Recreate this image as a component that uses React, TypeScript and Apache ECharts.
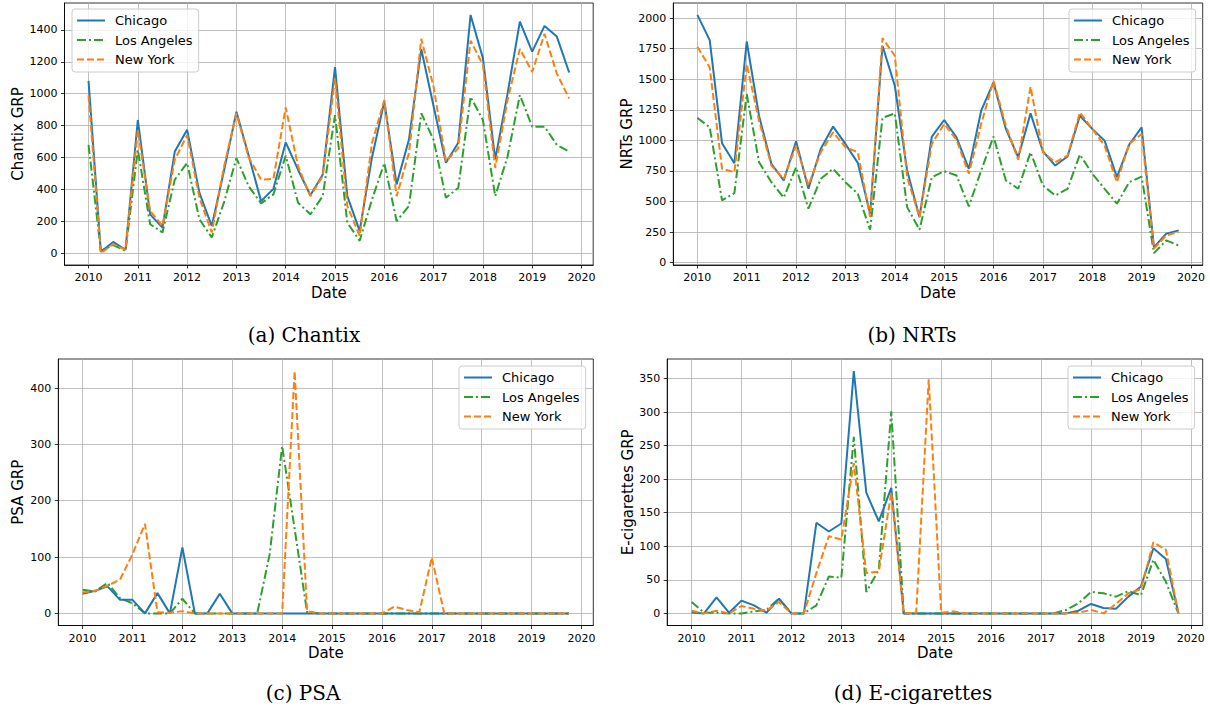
import React, { useEffect, useRef } from "react";
import * as echarts from "echarts";

// Quarterly dates 2010 Q1 .. 2019 Q4
const quarters: number[] = [];
for (let y = 2010; y < 2020; y++) for (let q = 0; q < 4; q++) quarters.push(y + q * 0.25);

const yearTicks = [2010, 2011, 2012, 2013, 2014, 2015, 2016, 2017, 2018, 2019, 2020];

// (a) Chantix
const chantixChicago = [1080, 8, 70, 21, 835, 243, 160, 637, 773, 378, 170, 520, 887, 610, 326, 403, 694, 523, 363, 492, 1167, 357, 139, 600, 950, 431, 712, 1279, 921, 567, 692, 1494, 1223, 588, 1000, 1452, 1264, 1425, 1358, 1133];
const chantixLA = [679, 15, 50, 14, 648, 181, 129, 461, 565, 212, 98, 320, 596, 419, 312, 368, 611, 316, 243, 357, 866, 191, 77, 336, 565, 201, 295, 877, 710, 347, 409, 980, 835, 357, 606, 991, 793, 793, 679, 637];
const chantixNY = [990, 0, 56, 21, 770, 264, 170, 586, 741, 347, 129, 544, 877, 600, 461, 465, 914, 544, 357, 482, 1095, 295, 108, 690, 960, 357, 627, 1344, 1043, 575, 658, 1333, 1180, 534, 960, 1281, 1136, 1375, 1126, 970];
const chantixTicks = [0, 200, 400, 600, 800, 1000, 1200, 1400];

// (b) NRTs
const nrtChicago = [2027, 1820, 976, 813, 1809, 1200, 808, 672, 993, 604, 931, 1113, 971, 816, 400, 1774, 1447, 753, 372, 1031, 1167, 1025, 767, 1243, 1474, 1094, 862, 1221, 911, 794, 868, 1202, 1094, 998, 699, 966, 1107, 127, 237, 264];
const nrtLA = [1184, 1107, 509, 568, 1380, 821, 658, 531, 780, 441, 686, 767, 658, 563, 269, 1184, 1221, 454, 269, 699, 748, 713, 460, 753, 1031, 672, 604, 903, 631, 549, 604, 884, 727, 604, 482, 658, 704, 78, 182, 141];
const nrtNY = [1766, 1597, 767, 740, 1624, 1161, 794, 686, 957, 631, 903, 1066, 944, 903, 372, 1837, 1692, 699, 372, 971, 1135, 1004, 727, 1135, 1488, 1121, 841, 1439, 903, 821, 876, 1229, 1094, 957, 658, 971, 1053, 114, 223, 250];
const nrtTicks = [0, 250, 500, 750, 1000, 1250, 1500, 1750, 2000];

// (c) PSA
const psaChicago = [35, 40, 48, 24, 24, 0, 36, 0, 117, 0, 0, 35, 0, 0, 0, 0, 0, 0, 0, 0, 0, 0, 0, 0, 0, 0, 0, 0, 0, 0, 0, 0, 0, 0, 0, 0, 0, 0, 0, 0];
const psaLA = [42, 39, 54, 27, 18, 0, 0, 0, 26, 0, 0, 0, 0, 0, 0, 105, 297, 150, 2, 0, 0, 0, 0, 0, 0, 0, 0, 0, 0, 0, 0, 0, 0, 0, 0, 0, 0, 0, 0, 0];
const psaNY = [37, 40, 49, 60, 105, 159, 2, 1, 4, 0, 0, 0, 0, 0, 0, 0, 0, 430, 4, 0, 0, 0, 0, 0, 0, 12, 6, 2, 99, 0, 0, 0, 0, 0, 0, 0, 0, 0, 0, 0];
const psaTicks = [0, 100, 200, 300, 400];

// (d) E-cigarettes
const ecigChicago = [1.5, 0, 24, 1, 19, 12, 1, 22, 0, 0, 135, 122, 134, 361, 180, 137, 187, 0, 0, 0, 0, 0, 0, 0, 0, 0, 0, 0, 0, 0, 0, 4, 14, 8, 7, 25, 40, 97, 81, 1];
const ecigLA = [17, 1, 1, 0, 0, 3, 5, 22, 0, 0, 12, 55, 53, 263, 32, 65, 301, 0, 0, 0, 0, 0, 0, 0, 0, 0, 0, 0, 0, 0, 5, 15, 32, 30, 25, 33, 27, 80, 47, 0];
const ecigNY = [4, 0, 4, 0, 11, 7, 4, 17, 0, 0, 60, 115, 110, 224, 60, 62, 180, 0, 1, 349, 1, 3, 0, 0, 0, 0, 0, 0, 0, 0, 0, 1, 5, 0, 14, 30, 36, 106, 95, 0];
const ecigTicks = [0, 50, 100, 150, 200, 250, 300, 350];

const cities = ["Chicago", "Los Angeles", "New York"];
const captions = ["(a) Chantix", "(b) NRTs", "(c) PSA", "(d) E-cigarettes"];
const yNames = ["Chantix GRP", "NRTs GRP", "PSA GRP", "E-cigarettes GRP"];

const BLUE = "#1f77b4";
const GREEN = "#2ca02c";
const ORANGE = "#ff7f0e";

export default function App() {
  const ref = useRef<HTMLDivElement>(null);

  useEffect(() => {
    if (!ref.current) return;
    const chart = echarts.init(ref.current, undefined, { renderer: "svg" });

    const panels = [
      { series: [chantixChicago, chantixLA, chantixNY], ticks: chantixTicks, min: -74.7, max: 1568.7, grid: { left: 64.5, top: 3, width: 528.7, height: 262 }, nameGap: 39, legend: { left: 72, top: 9 }, cap: { x: 304, y: 335 } },
      { series: [nrtChicago, nrtLA, nrtNY], ticks: nrtTicks, min: -19.5, max: 2124, grid: { left: 673.3, top: 3, width: 529.4, height: 262 }, nameGap: 39, legend: { left: 1069, top: 9 }, cap: { x: 912, y: 335 } },
      { series: [psaChicago, psaLA, psaNY], ticks: psaTicks, min: -21.5, max: 451.5, grid: { left: 58.3, top: 359, width: 535, height: 266.5 }, nameGap: 32.5, legend: { left: 459, top: 366 }, cap: { x: 303, y: 693 } },
      { series: [ecigChicago, ecigLA, ecigNY], ticks: ecigTicks, min: -18.05, max: 379.1, grid: { left: 667.2, top: 359, width: 535.5, height: 266.5 }, nameGap: 31.5, legend: { left: 1068, top: 366 }, cap: { x: 913, y: 693 } },
    ];

    const font = "DejaVu Sans";
    const grids: any[] = [];
    const xAxes: any[] = [];
    const yAxes: any[] = [];
    const series: any[] = [];
    const legends: any[] = [];
    const graphics: any[] = [];
    const styles = [
      { color: BLUE, type: "solid" as any },
      { color: GREEN, type: [9, 3, 2, 3] as any },
      { color: ORANGE, type: [7, 3] as any },
    ];

    panels.forEach((p, i) => {
      grids.push({ ...p.grid, show: true, borderColor: "#000", borderWidth: 0.8, backgroundColor: "transparent", containLabel: false });
      xAxes.push({
        type: "value", gridIndex: i, min: 2009.5125, max: 2020.2375,
        name: "Date", nameLocation: "middle", nameGap: 20,
        nameTextStyle: { fontFamily: font, fontSize: 15, color: "#000" },
        axisLine: { show: true, onZero: false, lineStyle: { color: "#000", width: 0.8 } },
        axisTick: { show: true, length: 3.5, inside: false, customValues: yearTicks, lineStyle: { color: "#000", width: 0.8 } },
        axisLabel: { show: true, margin: 7, customValues: yearTicks, fontFamily: font, fontSize: 11, color: "#000", formatter: (v: number) => String(Math.round(v)) },
        splitLine: { show: true, lineStyle: { color: "#b0b0b0", width: 0.8 } },
      });
      yAxes.push({
        type: "value", gridIndex: i, min: p.min, max: p.max,
        name: yNames[i], nameLocation: "middle", nameGap: p.nameGap, nameRotate: 90,
        nameTextStyle: { fontFamily: font, fontSize: 15, color: "#000" },
        axisLine: { show: true, onZero: false, lineStyle: { color: "#000", width: 0.8 } },
        axisTick: { show: true, length: 3.5, inside: false, customValues: p.ticks, lineStyle: { color: "#000", width: 0.8 } },
        axisLabel: { show: true, margin: 7, customValues: p.ticks, fontFamily: font, fontSize: 11, color: "#000", formatter: (v: number) => String(Math.round(v)) },
        splitLine: { show: true, lineStyle: { color: "#b0b0b0", width: 0.8 } },
      });
      p.series.forEach((vals, k) => {
        series.push({
          type: "line", name: cities[k], xAxisIndex: i, yAxisIndex: i,
          data: vals.map((v, j) => [quarters[j], v]),
          symbol: "none", showSymbol: false,
          color: styles[k].color,
          lineStyle: { color: styles[k].color, width: 2, type: styles[k].type },
          z: k === 0 ? 4 : k === 1 ? 3 : 5,
        });
      });
      legends.push({
        data: cities, orient: "vertical", left: p.legend.left, top: p.legend.top,
        itemWidth: 28, itemHeight: 14, itemGap: 6.5,
        padding: [5, 6, 6, 4],
        backgroundColor: "rgba(255,255,255,0.8)", borderColor: "#cccccc", borderWidth: 1, borderRadius: 3,
        itemStyle: { color: "rgba(0,0,0,0)", borderWidth: 0, opacity: 0 },
        textStyle: { fontFamily: font, fontSize: 13, color: "#000", padding: [0, 0, 0, 5] },
        selectedMode: false,
      });
      graphics.push({
        type: "text", x: p.cap.x, y: p.cap.y,
        style: { text: captions[i], font: "20px 'DejaVu Serif'", fill: "#000", align: "center", verticalAlign: "middle" },
      });
    });

    chart.setOption({
      animation: false,
      backgroundColor: "#fff",
      grid: grids,
      xAxis: xAxes,
      yAxis: yAxes,
      series,
      legend: legends,
      graphic: graphics,
    });
    return () => chart.dispose();
  }, []);

  return <div ref={ref} style={{ position: "absolute", left: 0, top: 0, width: 1210, height: 710 }} />;
}
